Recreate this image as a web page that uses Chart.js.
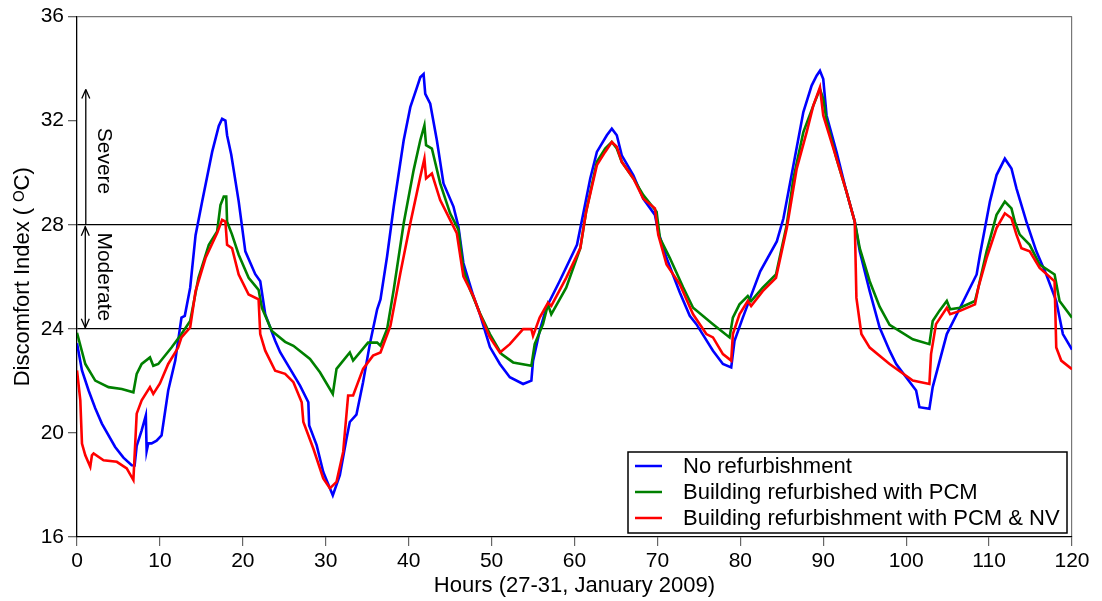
<!DOCTYPE html>
<html>
<head>
<meta charset="utf-8">
<script src="https://cdn.jsdelivr.net/npm/chart.js@4.4.1/dist/chart.umd.min.js"></script>
<style>
  html, body { margin: 0; padding: 0; background: #fff; }
  #wrap { width: 1102px; height: 601px; }
</style>
</head>
<body>
<div id="wrap"><canvas id="c"></canvas></div>
<script>
// data (hours, discomfort index)
const noRefHours = [0, 0.6, 1.4, 2.2, 3.0, 4.6, 5.6, 6.6, 6.95, 7.2, 7.8, 8.3, 8.4, 8.6, 9.0, 9.6, 10.2, 11.0, 11.85, 12.6, 13.0, 13.65, 14.3, 15.1, 16.3, 17.1, 17.5, 17.9, 18.1, 18.6, 19.5, 20.3, 21.5, 22.1, 22.7, 23.9, 24.5, 25.7, 26.9, 27.9, 28.0, 28.9, 29.7, 30.5, 30.85, 31.7, 32.5, 32.9, 33.7, 34.5, 35.35, 36.2, 36.6, 37.4, 38.2, 39.4, 40.2, 41.0, 41.4, 41.8, 42.0, 42.6, 43.4, 44.2, 45.4, 46.0, 46.6, 47.8, 48.6, 49.8, 51.0, 52.2, 53.8, 54.8, 55.0, 55.8, 56.6, 58.2, 60.3, 61.1, 61.9, 62.7, 63.9, 64.5, 65.1, 65.7, 67.1, 68.3, 69.7, 70.1, 71.1, 72.7, 73.9, 74.7, 76.7, 77.9, 78.9, 79.3, 80.3, 82.4, 84.4, 85.2, 86.4, 87.6, 88.6, 89.2, 89.6, 90.0, 90.4, 91.6, 92.8, 93.8, 94.4, 95.6, 96.8, 98.0, 98.8, 101.2, 101.6, 102.8, 103.2, 104.9, 106.5, 108.5, 108.9, 110.1, 110.9, 111.9, 112.7, 113.3, 114.5, 115.7, 116.9, 118.1, 118.9, 120];
const noRefDI = [23.45, 22.4, 21.63, 20.95, 20.36, 19.46, 19.05, 18.76, 18.75, 19.5, 20.1, 20.67, 19.3, 19.6, 19.6, 19.7, 19.9, 21.63, 22.78, 24.43, 24.5, 25.58, 27.6, 28.9, 30.8, 31.8, 32.07, 32.0, 31.44, 30.7, 28.9, 26.98, 26.1, 25.83, 24.56, 23.54, 23.1, 22.46, 21.82, 21.18, 20.29, 19.53, 18.5, 17.87, 17.6, 18.38, 19.78, 20.42, 20.7, 21.95, 23.47, 24.75, 25.13, 26.79, 28.7, 31.25, 32.52, 33.28, 33.67, 33.79, 33.03, 32.65, 31.25, 29.59, 28.7, 27.93, 26.53, 25.26, 24.56, 23.3, 22.65, 22.14, 21.88, 22.01, 22.77, 23.92, 24.81, 25.83, 27.23, 28.5, 29.78, 30.8, 31.44, 31.69, 31.44, 30.67, 29.9, 29.0, 28.38, 27.74, 26.72, 25.4, 24.5, 24.18, 23.16, 22.65, 22.52, 23.54, 24.43, 26.21, 27.36, 28.25, 30.29, 32.33, 33.35, 33.73, 33.92, 33.6, 32.2, 30.8, 29.27, 28.12, 26.98, 25.45, 24.05, 23.16, 22.65, 21.63, 20.99, 20.93, 21.76, 23.8, 24.81, 26.09, 26.85, 28.89, 29.91, 30.54, 30.16, 29.4, 28.12, 26.98, 26.09, 25.07, 23.8, 23.2];

const pcmHours = [0, 1.0, 2.2, 3.8, 5.4, 6.8, 7.2, 7.8, 8.8, 9.2, 9.8, 11.4, 12.6, 13.65, 14.65, 15.9, 16.9, 17.3, 17.7, 18.0, 18.1, 18.7, 19.5, 20.7, 21.9, 22.3, 23.5, 25.1, 26.1, 28.1, 29.3, 30.85, 31.3, 32.9, 33.3, 35.1, 36.2, 36.6, 37.4, 38.2, 39.4, 40.6, 41.4, 41.9, 42.1, 42.8, 43.8, 45.0, 46.0, 46.6, 47.4, 48.6, 49.8, 51.2, 52.6, 54.8, 55.2, 56.2, 56.8, 57.2, 59.0, 60.7, 61.4, 62.7, 63.7, 64.5, 65.1, 65.7, 67.1, 68.3, 69.9, 70.3, 71.5, 73.1, 74.3, 76.7, 78.7, 79.1, 79.9, 80.9, 81.3, 82.7, 84.3, 85.6, 86.4, 87.6, 88.8, 89.6, 90.0, 90.4, 91.6, 92.8, 93.8, 94.4, 95.6, 96.8, 98.0, 100.8, 102.8, 103.2, 104.0, 104.9, 105.3, 106.5, 108.3, 108.7, 109.7, 110.9, 111.9, 112.7, 113.1, 113.7, 114.9, 116.1, 117.9, 118.5, 120];
const pcmDI = [23.85, 22.65, 22.01, 21.76, 21.69, 21.56, 22.27, 22.65, 22.9, 22.58, 22.65, 23.28, 23.8, 24.3, 25.96, 27.23, 27.74, 28.76, 29.08, 29.08, 28.12, 27.62, 26.85, 25.96, 25.5, 24.81, 23.92, 23.5, 23.35, 22.84, 22.33, 21.5, 22.46, 23.09, 22.78, 23.47, 23.47, 23.35, 23.99, 25.51, 28.06, 30.1, 31.25, 31.82, 31.06, 30.93, 29.59, 28.44, 27.81, 26.28, 25.51, 24.6, 23.8, 23.03, 22.71, 22.58, 23.41, 24.18, 24.94, 24.56, 25.58, 27.1, 28.5, 30.42, 30.93, 31.18, 30.93, 30.42, 29.78, 29.14, 28.5, 27.49, 26.72, 25.6, 24.81, 24.18, 23.67, 24.43, 24.94, 25.26, 25.07, 25.58, 26.09, 28.0, 29.78, 31.56, 32.58, 33.22, 32.84, 32.0, 30.54, 29.27, 28.12, 27.1, 25.83, 24.85, 24.15, 23.6, 23.41, 24.3, 24.69, 25.07, 24.75, 24.81, 25.07, 25.58, 26.98, 28.38, 28.89, 28.63, 28.12, 27.62, 27.23, 26.47, 26.09, 25.07, 24.43];

const pcmNvHours = [0, 0.4, 0.6, 1.0, 1.6, 1.8, 2.0, 3.2, 4.8, 6.0, 6.8, 7.0, 7.2, 7.8, 8.8, 9.2, 10.0, 11.0, 12.2, 12.6, 13.65, 14.3, 15.5, 16.9, 17.5, 17.9, 18.1, 18.7, 19.5, 20.7, 21.9, 22.1, 22.7, 23.9, 25.1, 26.1, 27.1, 27.3, 28.5, 29.7, 30.5, 31.3, 32.1, 32.7, 33.3, 34.5, 35.7, 36.6, 37.8, 39.0, 40.2, 41.4, 41.9, 42.1, 42.8, 43.8, 45.0, 45.8, 46.6, 47.8, 48.6, 49.8, 51.0, 52.2, 53.8, 54.8, 55.0, 55.8, 56.8, 57.2, 59.0, 60.7, 61.4, 62.7, 63.7, 64.5, 65.1, 65.7, 67.1, 68.3, 69.7, 70.1, 71.1, 72.7, 74.3, 75.9, 76.7, 77.9, 78.9, 79.1, 79.9, 80.9, 81.3, 82.7, 84.3, 85.6, 86.8, 88.0, 88.8, 89.6, 90.0, 91.6, 92.8, 93.8, 94.0, 94.6, 95.6, 98.0, 100.8, 102.8, 103.0, 103.6, 104.9, 105.3, 106.5, 108.3, 108.7, 109.7, 110.9, 111.9, 112.7, 113.3, 113.9, 114.9, 116.1, 117.9, 118.1, 118.7, 120];
const pcmNvDI = [22.4, 21.25, 19.59, 19.14, 18.7, 19.14, 19.21, 18.95, 18.89, 18.64, 18.19, 19.46, 20.74, 21.25, 21.76, 21.5, 21.9, 22.65, 23.28, 23.67, 24.05, 25.45, 26.72, 27.68, 28.19, 28.12, 27.23, 27.1, 26.09, 25.32, 25.13, 23.8, 23.16, 22.39, 22.27, 21.95, 21.18, 20.42, 19.4, 18.25, 17.87, 18.12, 19.27, 21.44, 21.44, 22.46, 22.97, 23.09, 24.11, 26.15, 28.06, 29.84, 30.54, 29.78, 29.97, 28.95, 28.19, 27.68, 26.02, 25.26, 24.56, 23.67, 23.09, 23.41, 23.99, 23.99, 23.73, 24.43, 25.0, 24.88, 25.96, 27.1, 28.5, 30.29, 30.8, 31.18, 31.0, 30.42, 29.78, 29.0, 28.63, 27.62, 26.47, 25.71, 24.56, 23.8, 23.67, 23.03, 22.78, 23.8, 24.56, 25.07, 24.88, 25.45, 25.96, 27.87, 30.16, 31.56, 32.58, 33.28, 32.2, 30.54, 29.27, 28.12, 25.19, 23.8, 23.28, 22.65, 22.01, 21.88, 23.03, 24.18, 24.81, 24.56, 24.69, 24.94, 25.58, 26.72, 27.87, 28.44, 28.25, 27.62, 27.1, 26.98, 26.34, 25.83, 23.28, 22.78, 22.45];

const seriesLabels = ['No refurbishment', 'Building refurbished with PCM', 'Building refurbishment with PCM & NV'];
const xTicks = [0, 10, 20, 30, 40, 50, 60, 70, 80, 90, 100, 110, 120];
const yTicks = [16, 20, 24, 28, 32, 36];
const bands = [24, 28, 33.2]; // moderate / severe limits, arrow top

const FONT = 'Liberation Sans, Arial, Helvetica, sans-serif';

function pts(hs, vs) {
  return hs.map((h, i) => ({ x: h, y: vs[i] }));
}

// severe / moderate arrows + framed legend
const extras = {
  id: 'extras',
  afterDatasetsDraw(chart) {
    const ctx = chart.ctx;
    const xs = chart.scales.x, ys = chart.scales.y;
    const ax = xs.getPixelForValue(1.0);
    const y24 = ys.getPixelForValue(bands[0]);
    const y28 = ys.getPixelForValue(bands[1]);
    const yTop = ys.getPixelForValue(bands[2]);
    ctx.save();
    ctx.strokeStyle = '#000';
    ctx.fillStyle = '#000';
    ctx.lineWidth = 1.3;
    const head = (x, y, dir) => {
      ctx.beginPath();
      ctx.moveTo(x, y);
      ctx.lineTo(x - 4, y - dir * 9);
      ctx.moveTo(x, y);
      ctx.lineTo(x + 4, y - dir * 9);
      ctx.stroke();
    };
    ctx.beginPath();
    ctx.moveTo(ax, y28 + 1); ctx.lineTo(ax, y24 - 1);
    ctx.moveTo(ax + 0.5, y28); ctx.lineTo(ax + 0.5, yTop);
    ctx.stroke();
    head(ax, y28 + 2, -1);
    head(ax, y24 - 1, 1);
    head(ax + 0.5, yTop, -1);

    ctx.font = '21px ' + FONT;
    ctx.textAlign = 'center';
    ctx.textBaseline = 'middle';
    const tx = ax + 19;
    [['Severe', ys.getPixelForValue(30.45)], ['Moderate', ys.getPixelForValue(26.0)]].forEach(([t, y]) => {
      ctx.save();
      ctx.translate(tx, y);
      ctx.rotate(Math.PI / 2);
      ctx.fillText(t, 0, 0);
      ctx.restore();
    });

    // legend box
    const bx = 628, by = 452, bw = 439, bh = 81;
    ctx.fillStyle = '#fff';
    ctx.fillRect(bx, by, bw, bh);
    ctx.lineWidth = 1.5;
    ctx.strokeStyle = '#000';
    ctx.strokeRect(bx, by, bw, bh);
    ctx.font = '22px ' + FONT;
    ctx.textAlign = 'left';
    chart.data.datasets.forEach((ds, i) => {
      const ly = by + 14 + i * 26;
      ctx.strokeStyle = ds.borderColor;
      ctx.lineWidth = 2.5;
      ctx.beginPath();
      ctx.moveTo(bx + 7, ly); ctx.lineTo(bx + 34, ly);
      ctx.stroke();
      ctx.fillStyle = '#000';
      ctx.fillText(ds.label, bx + 55, ly + 1);
    });
    ctx.restore();
  }
};

new Chart(document.getElementById('c'), {
  type: 'line',
  data: {
    datasets: [
      { label: seriesLabels[0], data: pts(noRefHours, noRefDI), borderColor: '#0000ff', order: 3 },
      { label: seriesLabels[1], data: pts(pcmHours, pcmDI), borderColor: '#008000', order: 2 },
      { label: seriesLabels[2], data: pts(pcmNvHours, pcmNvDI), borderColor: '#ff0000', order: 1 }
    ]
  },
  options: {
    responsive: true,
    maintainAspectRatio: false,
    animation: false,
    layout: { padding: { left: 10, right: 30, top: 14, bottom: 2 } },
    elements: {
      point: { radius: 0 },
      line: { borderWidth: 2.6, tension: 0, fill: false }
    },
    plugins: {
      legend: { display: false },
      tooltip: { enabled: false }
    },
    scales: {
      x: {
        type: 'linear',
        min: 0, max: 120,
        afterBuildTicks: (s) => { s.ticks = xTicks.map(v => ({ value: v })); },
        afterFit: (s) => { s.height = 62; },
        border: { color: '#000', width: 1.3 },
        grid: {
          drawOnChartArea: true,
          color: (c) => c.tick && c.tick.value === 120 ? '#777' : 'rgba(0,0,0,0)',
          tickColor: '#666',
          tickLength: 9,
          lineWidth: 1.2
        },
        ticks: { color: '#000', font: { family: FONT, size: 21 }, padding: 3, maxRotation: 0 },
        title: { display: true, text: 'Hours (27-31, January 2009)', color: '#000', font: { family: FONT, size: 22 }, padding: { top: -4, bottom: 0 } }
      },
      y: {
        min: 16, max: 36,
        afterBuildTicks: (s) => { s.ticks = yTicks.map(v => ({ value: v })); },
        afterFit: (s) => { s.width = 67; },
        border: { color: '#000', width: 1.3 },
        grid: {
          drawOnChartArea: true,
          color: (c) => {
            if (!c.tick) return 'rgba(0,0,0,0)';
            if (c.tick.value === 24 || c.tick.value === 28) return '#000';
            if (c.tick.value === 36) return '#777';
            return 'rgba(0,0,0,0)';
          },
          tickColor: '#666',
          tickLength: 9,
          lineWidth: 1.3
        },
        ticks: { color: '#000', font: { family: FONT, size: 21 }, padding: 4 },
        title: { display: true, text: 'Discomfort Index ( \u1D3CC)', color: '#000', font: { family: FONT, size: 22 }, padding: { top: 0, bottom: 0 } }
      }
    }
  },
  plugins: [extras]
});
</script>
</body>
</html>
